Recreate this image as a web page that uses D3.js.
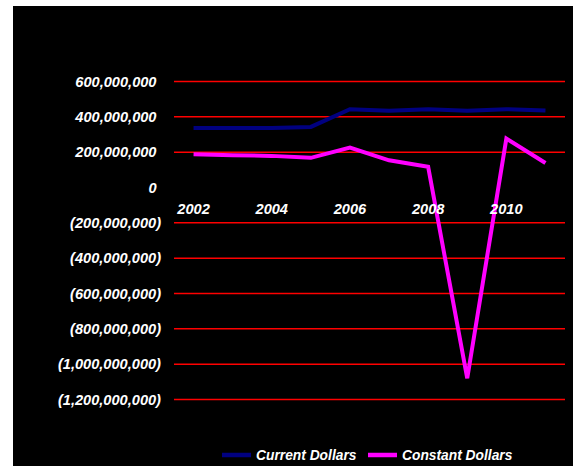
<!DOCTYPE html>
<html>
<head>
<meta charset="utf-8">
<script src="https://cdn.jsdelivr.net/npm/d3@7/dist/d3.min.js"></script>
<style>
  html, body { margin: 0; padding: 0; background: #fff; }
  svg { display: block; }
  text { font-family: "Liberation Sans", Arial, sans-serif; font-weight: bold; font-style: italic; fill: #fff; }
</style>
</head>
<body>
<script>
// Annual figures, 2002–2011
const years = ["2002","2003","2004","2005","2006","2007","2008","2009","2010","2011"];
const currentDollars  = [337e6, 337e6, 337e6, 343e6, 443e6, 434e6, 443e6, 434e6, 443e6, 436e6];
const constantDollars = [188e6, 183e6, 179e6, 168e6, 226e6, 154e6, 117e6, -1080e6, 277e6, 139e6];
const yTicks = [600e6, 400e6, 200e6, 0, -200e6, -400e6, -600e6, -800e6, -1000e6, -1200e6];
const xTickLabels = ["2002", "2004", "2006", "2008", "2010"];
const seriesNames = ["Current Dollars", "Constant Dollars"];
const seriesColors = ["#000080", "#ff00ff"];

const W = 573, H = 466;
const svg = d3.select("body").append("svg").attr("width", W).attr("height", H);

// black chart area
svg.append("rect").attr("x", 13).attr("y", 6).attr("width", W - 13).attr("height", H - 6).attr("fill", "#000");

const plot = { left: 174, right: 565, top: 81.5, bottom: 399.5 };

const x = d3.scaleBand().domain(years).range([plot.left, plot.right]);
const y = d3.scaleLinear().domain([-1200e6, 600e6]).range([plot.bottom, plot.top]);
const xc = d => x(d) + x.bandwidth() / 2;

// gridlines (no line at zero)
svg.append("g").selectAll("line")
  .data(yTicks.filter(v => v !== 0))
  .join("line")
  .attr("x1", plot.left).attr("x2", plot.right)
  .attr("y1", d => y(d)).attr("y2", d => y(d))
  .attr("stroke", "#f00").attr("stroke-width", 1.5);

// y tick labels: negatives in parentheses, positives padded for the ")"
const fmt = d3.format(",");
svg.append("g").selectAll("text")
  .data(yTicks)
  .join("text")
  .attr("x", d => d < 0 ? 161 : 156.5)
  .attr("y", d => y(d))
  .attr("dy", "0.36em")
  .attr("text-anchor", "end")
  .attr("font-size", 14.6)
  .text(d => d < 0 ? "(" + fmt(-d) + ")" : fmt(d));

// series lines
const line = d3.line().x((d, i) => xc(years[i])).y(d => y(d));
[currentDollars, constantDollars].forEach((vals, k) => {
  svg.append("path")
    .datum(vals)
    .attr("d", line)
    .attr("fill", "none")
    .attr("stroke", seriesColors[k])
    .attr("stroke-width", 4)
    .attr("stroke-linejoin", "miter");
});

// x category labels, drawn above the lines
svg.append("g").selectAll("text")
  .data(xTickLabels)
  .join("text")
  .attr("x", d => xc(d))
  .attr("y", 208.5)
  .attr("dy", "0.36em")
  .attr("text-anchor", "middle")
  .attr("font-size", 14.6)
  .text(d => d);

// legend
const legendPos = [222, 368];
seriesNames.forEach((name, k) => {
  const g = svg.append("g").attr("transform", `translate(${legendPos[k]},455)`);
  g.append("line").attr("x1", 0).attr("x2", 29).attr("y1", 0).attr("y2", 0)
    .attr("stroke", seriesColors[k]).attr("stroke-width", 4.5);
  g.append("text").attr("x", 34).attr("y", 0).attr("dy", "0.36em")
    .attr("font-size", 13.8).text(name);
});
</script>
</body>
</html>
